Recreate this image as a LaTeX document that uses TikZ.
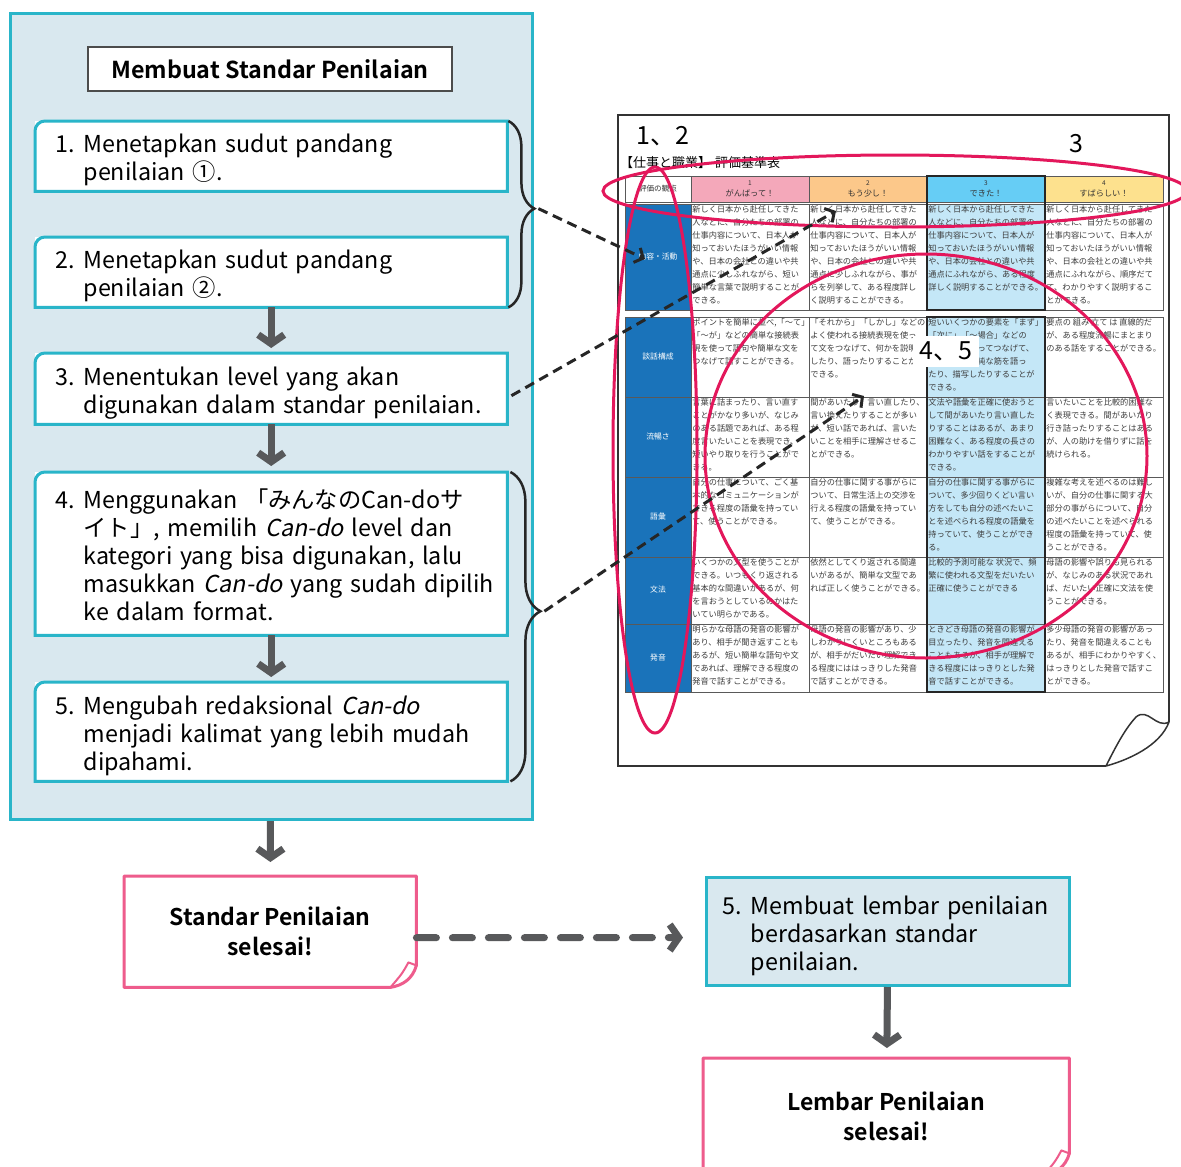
\documentclass[tikz,border=0pt]{standalone}
\usepackage{fontspec}
\setmainfont{Noto Sans CJK JP}[ItalicFont=Noto Sans CJK JP, ItalicFeatures={FakeSlant=0.2}, BoldFont=Noto Sans CJK JP Bold]
\usetikzlibrary{arrows.meta,calc,decorations.pathreplacing}
\definecolor{panelfill}{HTML}{D9E8EF}
\definecolor{cyanline}{HTML}{29B5C9}
\definecolor{pinkline}{HTML}{EE5C8C}
\definecolor{redring}{HTML}{E3175B}
\definecolor{arrowgrey}{HTML}{58595B}
\definecolor{tblblue}{HTML}{1A73BA}
\definecolor{skyfill}{HTML}{C4E7F7}
\definecolor{hdrpink}{HTML}{F4A8BA}
\definecolor{hdrorange}{HTML}{FCC88A}
\definecolor{hdrblue}{HTML}{66CDF5}
\definecolor{hdryellow}{HTML}{FDE18E}
\definecolor{txtgrey}{HTML}{3C3C3C}
% numbered step text, nudged down a little inside its box
\newcommand{\stepitem}[2]{\raisebox{-5pt}[\height][\depth]{\begin{tabular}{@{}l@{\hspace{9pt}}l@{}}#1 & #2\end{tabular}}}
\begin{document}
\begin{tikzpicture}[x=1pt,y=-1pt,
    every node/.style={inner sep=0pt},
    stepbox/.style={anchor=north west, fill=white, minimum width=472pt, text width=432pt,
      inner xsep=20pt, align=left, font=\fontsize{23.3}{28}\selectfont},
    stepedge/.style={draw=cyanline, line width=3pt},
    flow/.style={draw=arrowgrey, line width=7pt, -{Straight Barb[length=9pt,width=26pt]}},
    hint/.style={draw=black!85, line width=3pt, dash pattern=on 10pt off 6pt,
      -{Straight Barb[length=7pt,width=16pt]}},
    ring/.style={draw=redring, line width=3pt},
    curly/.style={draw=black!85, line width=2.5pt, decorate, decoration={brace, amplitude=#1}},
    gridline/.style={draw=black!65, line width=0.8pt},
    jtxt/.style={anchor=north west, inner sep=1.2pt, text=txtgrey, align=left,
      font=\fontsize{8.2}{13.1}\selectfont},
    lbl/.style={text=white, align=center, font=\fontsize{7.8}{9}\selectfont},
    hdr/.style={align=center, text=black!80, font=\fontsize{8.2}{11}\selectfont},
    donebox/.style={anchor=north west, fill=white, align=center, font=\bfseries\fontsize{23}{30}\selectfont},
    pinkedge/.style={draw=pinkline, line width=3pt, line join=round}
  ]
\useasboundingbox (0,0) rectangle (1181,1167);

% left panel
\node[anchor=north west, fill=panelfill, draw=cyanline, line width=3pt,
  minimum width=522pt, minimum height=806pt] (panel) at (9,12) {};
\node[draw=black!70, line width=1.2pt, fill=white, minimum width=364pt, minimum height=44pt,
  font=\bfseries\fontsize{23.3}{28}\selectfont] (title) at (270,69) {Membuat Standar Penilaian};

\node[stepbox, minimum height=70pt] (s1) at (35,121)
  {\stepitem{1.}{Menetapkan sudut pandang\\ & penilaian ①.}};
\node[stepbox, minimum height=70pt] (s2) at (35,237)
  {\stepitem{2.}{Menetapkan sudut pandang\\ & penilaian ②.}};
\node[stepbox, minimum height=71pt] (s3) at (35,353)
  {\stepitem{3.}{Menentukan level yang akan\\ & digunakan dalam standar penilaian.}};
\node[stepbox, minimum height=163pt] (s4) at (35,472)
  {\stepitem{4.}{Menggunakan 「みんなのCan-doサ\\
    & イト」, memilih \textit{Can-do} level dan\\ & kategori yang bisa digunakan, lalu\\
    & masukkan \textit{Can-do} yang sudah dipilih\\ & ke dalam format.}};
\node[stepbox, minimum height=99pt] (s5) at (35,682)
  {\stepitem{5.}{Mengubah redaksional \textit{Can-do}\\
    & menjadi kalimat yang lebih mudah\\ & dipahami.}};
\foreach \n in {s1,s2,s3,s4,s5}
  \draw[stepedge] (\n.south west) -- ([yshift=-10pt]\n.north west) arc[start angle=180, end angle=90, radius=10pt]
    -- (\n.north east) -- (\n.south east) -- cycle;

\draw[flow, shorten >=5pt] (s2) -- (s3);
\draw[flow, shorten >=6pt] (s3) -- (s4);
\draw[flow, shorten >=5pt] (s4) -- (s5);

\draw[curly=26pt, decoration={aspect=0.47}] ([xshift=1pt]s1.north east) -- ([xshift=1pt]s2.south east);
\draw[curly=30pt, decoration={aspect=0.45}] ([xshift=3pt]s4.north east) -- ([xshift=3pt]s5.south east);
\coordinate (b1) at ($(s1.north east)!0.47!(s2.south east)+(31,0)$);
\coordinate (b2) at ($(s4.north east)!0.45!(s5.south east)+(37,0)$);

% evaluation sheet
\draw[black!80, line width=1.5pt, fill=white] (1169,722) -- (1169,115) -- (618,115) -- (618,766) -- (1106,766);
\draw[black!80, line width=1.5pt, fill=white, line join=round] (1106,766) .. controls (1118,742) and (1126,728) .. (1136,717)
  .. controls (1148,707) and (1156,729) .. (1169,722) .. controls (1160,746) and (1128,760) .. (1106,766);
\node[font=\fontsize{25}{28}\selectfont] (nums12) at (663,136) {1、2};
\node[font=\fontsize{25}{28}\selectfont] (num3) at (1076,144) {3};
\node[anchor=west, font=\fontsize{13}{15}\selectfont] (sheettitle) at (620,163) {【仕事と職業】\hspace{4pt}評価基準表};

% header row and cells
\fill[hdrpink] (691,176) rectangle (809,202);
\fill[hdrorange] (809,176) rectangle (927,202);
\fill[hdrblue] (927,176) rectangle (1045,202);
\fill[hdryellow] (1045,176) rectangle (1163,202);
\draw[gridline] (625,176) rectangle (1163,202);
\foreach \x in {691,809,927,1045} \draw[gridline] (\x,176) -- (\x,202);
\foreach \yt/\yb in {204/310, 317/397, 397/477, 477/557, 557/624, 624/692} {
  \fill[tblblue] (625,\yt) rectangle (691,\yb);
  \fill[skyfill] (927,\yt) rectangle (1045,\yb);
  \draw[gridline] (625,\yt) rectangle (1163,\yb);
  \foreach \x in {691,809,927,1045} \draw[gridline] (\x,\yt) -- (\x,\yb);
}
\draw[black!85, line width=2.5pt] (927,176) rectangle (1045,310);
\draw[black!85, line width=2.5pt] (927,317) rectangle (1045,692);

\node[hdr, font=\fontsize{7.6}{9}\selectfont] (h0) at (658,189) {評価の観点};
\node[hdr] (h1) at (750,189) {{\fontsize{6.5}{8}\selectfont 1}\\がんばって！};
\node[hdr] (h2) at (868,189) {{\fontsize{6.5}{8}\selectfont 2}\\もう少し！};
\node[hdr] (h3) at (986,189) {{\fontsize{6.5}{8}\selectfont 3}\\できた！};
\node[hdr] (h4) at (1104,189) {{\fontsize{6.5}{8}\selectfont 4}\\すばらしい！};

\node[lbl] (l1) at (658,257) {内容・活動};
\node[lbl] (l2) at (658,357) {談話構成};
\node[lbl] (l3) at (658,437) {流暢さ};
\node[lbl] (l4) at (658,517) {語彙};
\node[lbl] (l5) at (658,590) {文法};
\node[lbl] (l6) at (658,658) {発音};

% row 1
\node[jtxt] (r1c1) at (691,204) {新しく日本から赴任してきた\\人などに、自分たちの部署の\\仕事内容について、日本人が\\知っておいたほうがいい情報\\や、日本の会社との違いや共\\通点に少しふれながら、短い\\簡単な言葉で説明することが\\できる。};
\node[jtxt] (r1c2) at (809,204) {新しく日本から赴任してきた\\人などに、自分たちの部署の\\仕事内容について、日本人が\\知っておいたほうがいい情報\\や、日本の会社との違いや共\\通点に少しふれながら、事が\\らを列挙して、ある程度詳し\\く説明することができる。};
\node[jtxt] (r1c3) at (927,204) {新しく日本から赴任してきた\\人などに、自分たちの部署の\\仕事内容について、日本人が\\知っておいたほうがいい情報\\や、日本の会社との違いや共\\通点にふれながら、ある程度\\詳しく説明することができる。};
\node[jtxt] (r1c4) at (1045,204) {新しく日本から赴任してきた\\人などに、自分たちの部署の\\仕事内容について、日本人が\\知っておいたほうがいい情報\\や、日本の会社との違いや共\\通点にふれながら、順序だて\\て、わかりやすく説明するこ\\とができる。};
% row 2
\node[jtxt] (r2c1) at (691,317) {ポイントを簡単に並べ,「～て」\\「～が」などの簡単な接続表\\現を使って語句や簡単な文を\\つなげて話すことができる。};
\node[jtxt] (r2c2) at (809,317) {「それから」「しかし」などの\\よく使われる接続表現を使っ\\て文をつなげて、何かを説明\\したり、語ったりすることが\\できる。};
\node[jtxt] (r2c3) at (927,317) {短いいくつかの要素を「まず」\\「次に」「～場合」などの\\接続表現を使ってつなげて、\\出来事や、単純な筋を語っ\\たり、描写したりすることが\\できる。};
\node[jtxt] (r2c4) at (1045,317) {要点の 組み 立て は 直線的だ\\が、ある程度流暢にまとまり\\のある話をすることができる。};
% row 3
\node[jtxt] (r3c1) at (691,397) {言葉に詰まったり、言い直す\\ことがかなり多いが、なじみ\\のある話題であれば、ある程\\度言いたいことを表現でき、\\短いやり取りを行うことがで\\きる。};
\node[jtxt] (r3c2) at (809,397) {間があいたり、言い直したり、\\言い換えたりすることが多い\\が、短い話であれば、言いた\\いことを相手に理解させるこ\\とができる。};
\node[jtxt] (r3c3) at (927,397) {文法や語彙を正確に使おうと\\して間があいたり言い直した\\りすることはあるが、あまり\\困難なく、ある程度の長さの\\わかりやすい話をすることが\\できる。};
\node[jtxt] (r3c4) at (1045,397) {言いたいことを比較的困難な\\く表現できる。間があいたり\\行き詰ったりすることはある\\が、人の助けを借りずに話を\\続けられる。};
% row 4
\node[jtxt] (r4c1) at (691,477) {自分の仕事について、ごく基\\本的なコミュニケーションが\\できる程度の語彙を持ってい\\て、使うことができる。};
\node[jtxt] (r4c2) at (809,477) {自分の仕事に関する事がらに\\ついて、日常生活上の交渉を\\行える程度の語彙を持ってい\\て、使うことができる。};
\node[jtxt] (r4c3) at (927,477) {自分の仕事に関する事がらに\\ついて、多少回りくどい言い\\方をしても自分の述べたいこ\\とを述べられる程度の語彙を\\持っていて、使うことができ\\る。};
\node[jtxt] (r4c4) at (1045,477) {複雑な考えを述べるのは難し\\いが、自分の仕事に関する大\\部分の事がらについて、自分\\の述べたいことを述べられる\\程度の語彙を持っていて、使\\うことができる。};
% row 5
\node[jtxt] (r5c1) at (691,557) {いくつかの文型を使うことが\\できる。いつもくり返される\\基本的な間違いがあるが、何\\を言おうとしているのかはた\\いてい明らかである。};
\node[jtxt] (r5c2) at (809,557) {依然としてくり返される間違\\いがあるが、簡単な文型であ\\れば正しく使うことができる。};
\node[jtxt] (r5c3) at (927,557) {比較的予測可能な 状況で、頻\\繁に使われる文型をだいたい\\正確に使うことができる};
\node[jtxt] (r5c4) at (1045,557) {母語の影響や誤りも見られる\\が、なじみのある状況であれ\\ば、だいたい正確に文法を使\\うことができる。};
% row 6
\node[jtxt] (r6c1) at (691,624) {明らかな母語の発音の影響が\\あり、相手が聞き返すことも\\あるが、短い簡単な語句や文\\であれば、理解できる程度の\\発音で話すことができる。};
\node[jtxt] (r6c2) at (809,624) {母語の発音の影響があり、少\\しわかりにくいところもある\\が、相手がだいたい理解でき\\る程度にははっきりした発音\\で話すことができる。};
\node[jtxt] (r6c3) at (927,624) {ときどき母語の発音の影響が\\目立ったり、発音を間違える\\こともあるが、相手が理解で\\きる程度にはっきりとした発\\音で話すことができる。};
\node[jtxt] (r6c4) at (1045,624) {多少母語の発音の影響があっ\\たり、発音を間違えることも\\あるが、相手にわかりやすく、\\はっきりとした発音で話すこ\\とができる。};

% red marks
\draw[ring] (895,191) ellipse [x radius=292, y radius=36];
\draw[ring] (655,450) ellipse [x radius=42, y radius=283];
\draw[ring] (926,456) ellipse [x radius=221, y radius=202];
\node[fill=white, minimum width=66pt, minimum height=31pt, font=\fontsize{25}{28}\selectfont] (nums45) at (946,351) {4、5};

% pointers into the sheet
\coordinate (t1) at (645,259);
\coordinate (t2) at (836,211);
\coordinate (t3) at (864,396);
\draw[hint] (b1) -- (t1);
\draw[hint] ($(s3.east)+(4,7)$) -- (t2);
\draw[hint] (b2) -- (t3);

% results
\node[donebox, minimum width=292pt, minimum height=111pt] (done1) at (124,876) {Standar Penilaian\\selesai!};
\node[anchor=north west, fill=panelfill, draw=cyanline, line width=3pt, minimum width=363pt, minimum height=108pt,
  text width=331pt, inner xsep=16pt, align=left, font=\fontsize{23.3}{28}\selectfont] (sheet) at (705,876)
  {\stepitem{5.}{Membuat lembar penilaian\\ & berdasarkan standar\\ & penilaian.}};
\node[donebox, minimum width=366pt, minimum height=117pt] (done2) at (703,1058) {Lembar Penilaian\\selesai!};
\foreach \n in {done1,done2} {
  \draw[pinkedge] (\n.north west) -- (\n.north east) -- ($(\n.south east)+(0,-22)$)
    .. controls ($(\n.south east)+(-4,-8)$) and ($(\n.south east)+(-14,-2)$) .. ($(\n.south east)+(-26,0)$)
    -- (\n.south west) -- cycle;
  \draw[pinkedge, line width=2pt] ($(\n.south east)+(0,-22)$) -- ($(\n.south east)+(-8,-25)$)
    .. controls ($(\n.south east)+(-14,-14)$) .. ($(\n.south east)+(-26,0)$);
}
\draw[flow, shorten >=14pt] (panel) -- (done1);
\draw[flow, dash pattern=on 20pt off 16pt, line cap=round, shorten >=22pt]
  ([yshift=-6pt]done1.east) -- ([yshift=-6pt]sheet.west);
\draw[flow, shorten >=10pt] (sheet) -- (done2);
\end{tikzpicture}
\end{document}
